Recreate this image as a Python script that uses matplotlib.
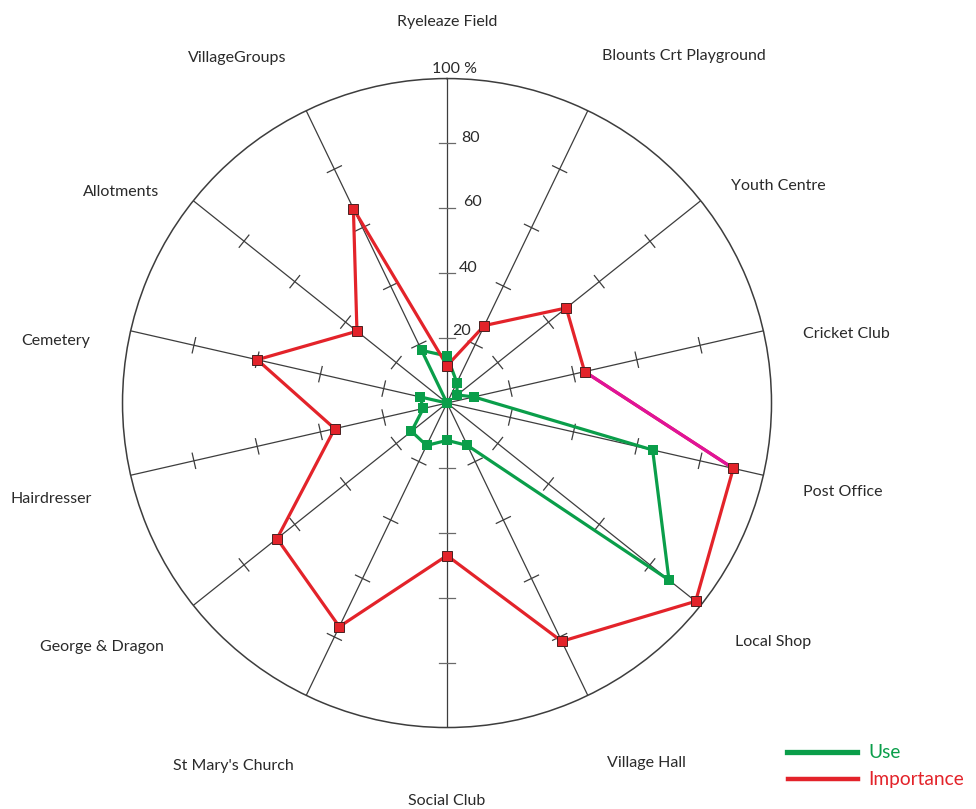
#import section
import numpy as np
import matplotlib
matplotlib.use("Agg")
import matplotlib.pyplot as plt
from matplotlib.lines import Line2D

plt.rcParams['font.family'] = ['Lato', 'DejaVu Sans']

#data
categories = ["Ryeleaze Field", "Blounts Crt Playground", "Youth Centre", "Cricket Club",
              "Post Office", "Local Shop", "Village Hall", "Social Club",
              "St Mary's Church", "George & Dragon", "Hairdresser", "Cemetery",
              "Allotments", "VillageGroups"]
use = [14.5, 7, 4, 8.5, 65, 87.5, 14.5, 11.5, 14.5, 14, 7.5, 8.5, 0, 18]
importance = [11.5, 26.5, 47, 43.5, 90.5, 98, 81.5, 47, 76.5, 67, 35.5, 60, 35.5, 66.5]
radial_ticks = [20, 40, 60, 80]
radial_labels = ["20", "40", "60", "80"]

#label placement (angle in degrees clockwise from top, radius in %)
label_pos = [(0, 117.5), (34.3, 129.5), (56.8, 122), (80.2, 124.8), (102.6, 125),
             (126.2, 124.7), (151, 127), (180, 122.5), (210.5, 129.8), (234.7, 130.2),
             (256.3, 125.4), (279, 122.1), (302.9, 119.7), (328.7, 124.5)]

GREEN = '#0a9e4a'
RED = '#e3232a'
MAGENTA = '#e0139a'
GREY = '#3d3d3d'
TXT = '#2a2a2a'

n = len(categories)
theta = np.arange(n) * 2 * np.pi / n

fig = plt.figure(figsize=(9.76, 8.09), dpi=100)
ax = fig.add_axes([0.1255, 0.1007, 0.665, 0.8022], projection='polar')
ax.set_theta_zero_location('N')
ax.set_theta_direction(-1)
ax.set_ylim(0, 100)
ax.grid(False)
ax.set_xticks([])
ax.set_yticks([])
ax.spines['polar'].set_color(GREY)
ax.spines['polar'].set_linewidth(1.1)

#spokes with small cross ticks
h = 2.4
for i, t in enumerate(theta):
    ax.plot([t, t], [0, 100], color=GREY, lw=0.9, zorder=1)
    tc = '#6a6a6a' if i in (0, 7) else GREY
    for r in radial_ticks:
        d = np.arctan(h / r)
        rr = np.hypot(r, h)
        ax.plot([t - d, t + d], [rr, rr], color=tc, lw=0.9, zorder=1)

#radial labels along the top spoke
offsets = [(5, 7), (12, 5), (16, 6), (14, 5)]
for r, lab, (ox, oy) in zip(radial_ticks, radial_labels, offsets):
    ax.annotate(lab, xy=(0, r), xytext=(ox, oy), textcoords='offset pixels',
                ha='left', va='center', fontsize=11.5, color=TXT)
ax.annotate("100 %", xy=(0, 100), xytext=(7, 10), textcoords='offset pixels',
            ha='center', va='center', fontsize=11.5, color=TXT, annotation_clip=False)

#category labels
for lab, (a, r) in zip(categories, label_pos):
    ax.text(np.deg2rad(a), r, lab, ha='center', va='center', fontsize=11.5,
            color=TXT, clip_on=False)

#series
th_c = np.append(theta, theta[0])
use_c = np.append(use, use[0])
imp_c = np.append(importance, importance[0])
ax.plot(th_c, use_c, color=GREEN, lw=2.3, zorder=3, clip_on=False)
ax.plot(th_c, imp_c, color=RED, lw=2.3, zorder=4, clip_on=False)
ax.plot(theta[3:5], importance[3:5], color=MAGENTA, lw=2.3, zorder=4)
ax.plot(theta, use, ls='none', marker='s', ms=7.5, mfc=GREEN, mew=0, zorder=5)
ax.plot(theta, importance, ls='none', marker='s', ms=7, mfc=RED,
        mec='#4a2020', mew=0.7, zorder=6, clip_on=False)

#legend
W, H = 976.0, 809.0
fig.add_artist(Line2D([787 / W, 857 / W], [1 - 752 / H, 1 - 752 / H], color=GREEN, lw=3.8))
fig.add_artist(Line2D([788 / W, 858 / W], [1 - 779 / H, 1 - 779 / H], color=RED, lw=3.2))
fig.text(868 / W, 1 - 752 / H, "Use", color=GREEN, fontsize=13.8, ha='left', va='center')
fig.text(868 / W, 1 - 779 / H, "Importance", color=RED, fontsize=13.8, ha='left', va='center')

fig.savefig("out.png", dpi=100, facecolor='white')
